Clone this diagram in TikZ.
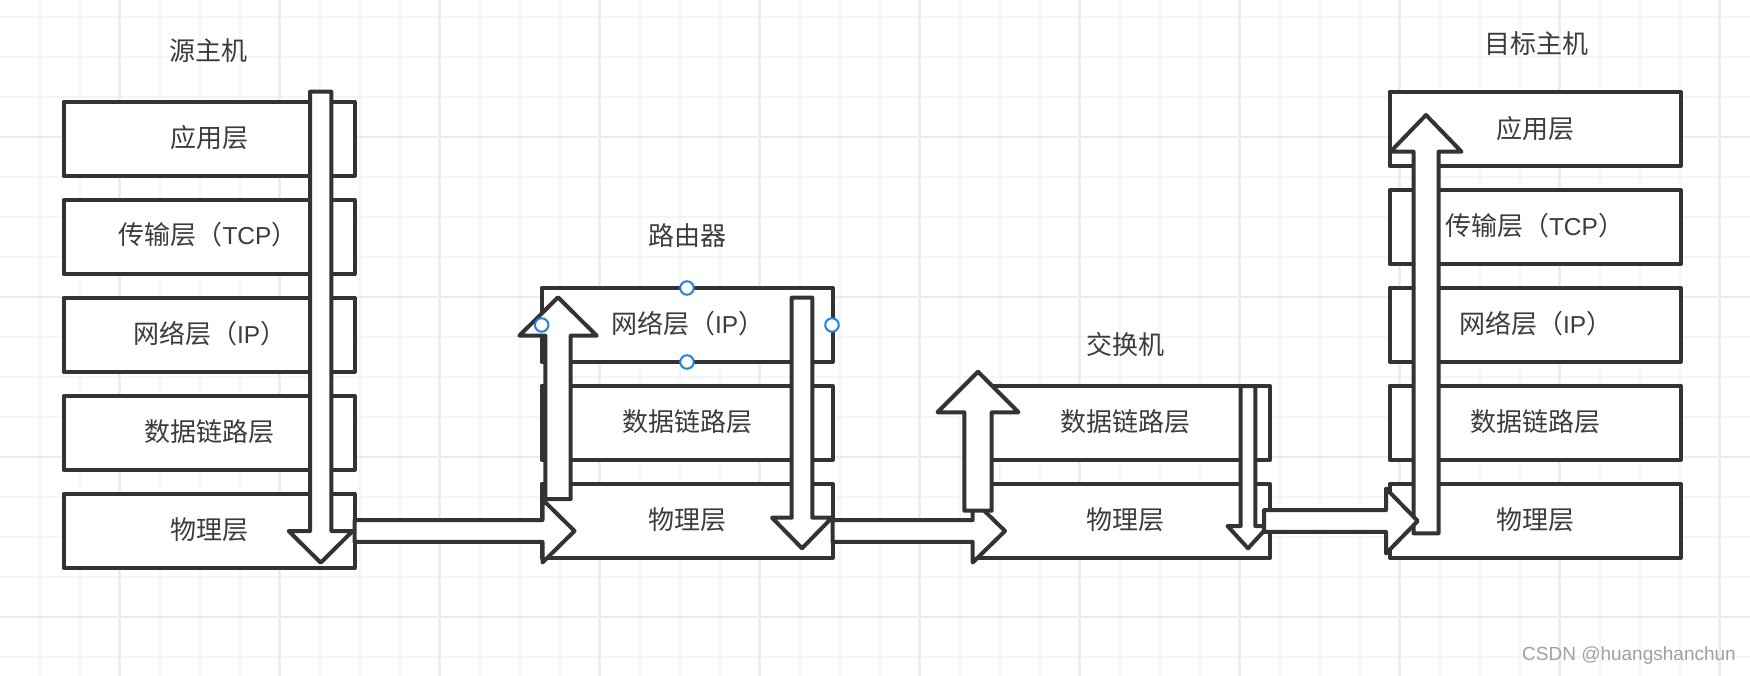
\documentclass[tikz,border=0pt]{standalone}
\usepackage{fontspec}
\usetikzlibrary{calc}
\newfontfamily\cjk{Noto Sans CJK SC}
\newfontfamily\lat{Liberation Sans}
\newcommand{\ltx}[1]{{\fontsize{24.5pt}{26pt}\selectfont\lat #1}}
\definecolor{ink}{HTML}{333333}
\definecolor{txt}{HTML}{3C3C3C}
\definecolor{gridminor}{HTML}{F5F5F5}
\definecolor{gridmajor}{HTML}{EDEDED}
\definecolor{handle}{HTML}{1F80E6}
\definecolor{mark}{HTML}{A0A0A0}
\tikzset{
  layer/.style={draw=ink,fill=white,line width=4pt,line join=round,minimum width=291pt,minimum height=74pt,inner sep=0pt,outer sep=0pt},
  lab/.style={text=txt,font=\fontsize{26pt}{26pt}\selectfont\cjk,inner sep=0pt,outer sep=0pt},
  labw/.style={lab,anchor=west},
  blockarrow/.style={draw=ink,fill=white,line width=4pt,line join=round},
  handledot/.style={circle,draw=handle,fill=white,line width=2pt,minimum size=13.5pt,inner sep=0pt}
}
% tail, tip, half shaft, half head, head length
\newcommand{\blockarrow}[5]{%
  \coordinate (T) at (#1);
  \coordinate (H) at (#2);
  \coordinate (S) at ($(H)!#5!(T)$);
  \draw[blockarrow] ($(T)!#3!90:(H)$) -- ($(S)!#3!90:(H)$) -- ($(S)!#4!90:(H)$) -- (H)
    -- ($(S)!#4!-90:(H)$) -- ($(S)!#3!-90:(H)$) -- ($(T)!#3!-90:(H)$) -- cycle;
}
\begin{document}
\begin{tikzpicture}[x=1pt,y=-1pt]
\useasboundingbox (0,0) rectangle (1750,676);
\fill[white] (0,0) rectangle (1750,676);
% grid
\foreach \k in {0,...,42}{
  \draw[gridminor,line width=2pt] ({39.5+40*\k},0) -- ({39.5+40*\k},676);
}
\foreach \k in {0,...,16}{
  \draw[gridminor,line width=2pt] (0,{17+40*\k}) -- (1750,{17+40*\k});
}
\foreach \k in {0,...,10}{
  \draw[gridmajor,line width=2.2pt] ({119.5+160*\k},0) -- ({119.5+160*\k},676);
}
\foreach \k in {0,...,3}{
  \draw[gridmajor,line width=2.2pt] (0,{137+160*\k}) -- (1750,{137+160*\k});
}
% source host
\node[layer] (s1) at (209,138.7) {};
\node[layer] (s2) at (209,237) {};
\node[layer] (s3) at (209,334.7) {};
\node[layer] (s4) at (209,433) {};
\node[layer] (s5) at (209,531) {};
% router
\node[layer] (r1) at (687,325) {};
\node[layer] (r2) at (687,422.7) {};
\node[layer] (r3) at (687,520.7) {};
% switch
\node[layer] (w1) at (1124.5,423) {};
\node[layer] (w2) at (1124.5,521) {};
% destination host
\node[layer] (d1) at (1535,128.7) {};
\node[layer] (d2) at (1535,227) {};
\node[layer] (d3) at (1535,324.8) {};
\node[layer] (d4) at (1535,422.5) {};
\node[layer] (d5) at (1535,520.7) {};
% arrow ends
\coordinate (a1s) at (320.7,91.7);
\coordinate (a1e) at (320.7,562.7);
\coordinate (a2e) at (574.5,531);
\coordinate (a3s) at (558,499);
\coordinate (a3e) at (558,297.3);
\coordinate (a4s) at (802,297.7);
\coordinate (a4e) at (802,548.3);
\coordinate (a5e) at (1005,531);
\coordinate (a6s) at (978,510.7);
\coordinate (a6e) at (978,371.7);
\coordinate (a7s) at (1248,386);
\coordinate (a7e) at (1248,548.3);
\coordinate (a8s) at (1264,521);
\coordinate (a8e) at (1417.7,521);
\coordinate (a9s) at (1426,533.3);
\coordinate (a9e) at (1426,115);
% arrows
\blockarrow{a1s}{a1e}{10.7pt}{32pt}{31.7pt}
\blockarrow{s5.east |- a2e}{a2e}{10.9pt}{31.5pt}{32pt}
\blockarrow{r3.east |- a5e}{a5e}{10.9pt}{31.5pt}{32.3pt}
\blockarrow{a3s}{a3e}{12.7pt}{38.7pt}{38.4pt}
\blockarrow{a4s}{a4e}{10.3pt}{30pt}{30.6pt}
\blockarrow{a6s}{a6e}{13.7pt}{40.5pt}{40.6pt}
\blockarrow{a7s}{a7e}{7.3pt}{20.5pt}{22.3pt}
\blockarrow{a9s}{a9e}{12.5pt}{35.5pt}{36.7pt}
\blockarrow{a8s}{a8e}{10.9pt}{32.5pt}{31.7pt}
% labels
\node[lab] (ts) at (208.5,50.7) {源主机};
\node[lab] (ts1) at (209,138) {应用层};
\node[labw] (ts2) at (118.5,235) {传输层（\ltx{TCP}）};
\node[labw] (ts3) at (133,333.5) {网络层（\ltx{IP}）};
\node[lab] (ts4) at (209,431.7) {数据链路层};
\node[lab] (ts5) at (209,530) {物理层};
\node[lab] (tr) at (687,236) {路由器};
\node[labw] (tr1) at (611,324) {网络层（\ltx{IP}）};
\node[lab] (tr2) at (687,421.7) {数据链路层};
\node[lab] (tr3) at (687,519.3) {物理层};
\node[lab] (tw) at (1125,345) {交换机};
\node[lab] (tw1) at (1125,421.7) {数据链路层};
\node[lab] (tw2) at (1125,520) {物理层};
\node[lab] (td) at (1536,43.3) {目标主机};
\node[lab] (td1) at (1535,128.3) {应用层};
\node[labw] (td2) at (1445,225.7) {传输层（\ltx{TCP}）};
\node[labw] (td3) at (1459,323.3) {网络层（\ltx{IP}）};
\node[lab] (td4) at (1535,421.7) {数据链路层};
\node[lab] (td5) at (1535,520) {物理层};
% selection handles
\node[handledot] (h1) at (687,288) {};
\node[handledot] (h2) at (687,362) {};
\node[handledot] (h3) at (541.7,325) {};
\node[handledot] (h4) at (832,325) {};
% watermark
\node[text=mark,font=\fontsize{19pt}{19pt}\selectfont\lat,anchor=east,inner sep=0pt] (wm) at (1736,656) {CSDN @huangshanchun};
\end{tikzpicture}
\end{document}
